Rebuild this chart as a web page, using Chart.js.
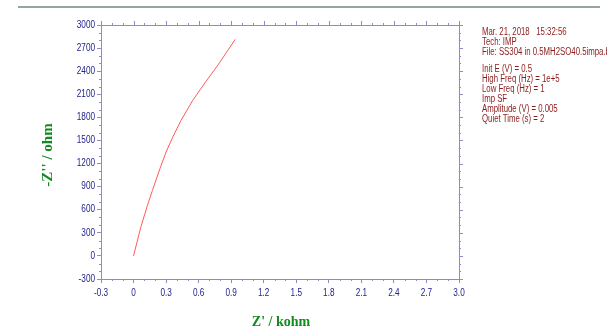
<!DOCTYPE html>
<html>
<head>
    <title>Nyquist plot</title>
    <script src="https://cdn.jsdelivr.net/npm/chart.js"></script>
    <style>
        body { margin: 0; background-color: #ffffff; }
        #wrap { position: relative; width: 607px; height: 331px; }
    </style>
</head>
<body>
<div id="wrap"><canvas id="nyquist" width="607" height="331"></canvas></div>
<script>
    // Z' in kohm, -Z'' in ohm
    var zReal = [0, 0.066, 0.127, 0.174, 0.245, 0.30, 0.361, 0.438, 0.546, 0.669, 0.783, 0.937];
    var zImag = [0, 369, 652, 850, 1140, 1350, 1543, 1761, 2022, 2270, 2490, 2813];
    var xTicks = [-0.3, 0, 0.3, 0.6, 0.9, 1.2, 1.5, 1.8, 2.1, 2.4, 2.7, 3.0];
    var yTicks = [-300, 0, 300, 600, 900, 1200, 1500, 1800, 2100, 2400, 2700, 3000];
    var infoLines = [
        ['Mar. 21, 2018   15:32:56', 32],
        ['Tech: IMP', 42],
        ['File: SS304 in 0.5MH2SO40.5impa.bin', 52],
        ['Init E (V) = 0.5', 69],
        ['High Freq (Hz) = 1e+5', 79],
        ['Low Freq (Hz) = 1', 89],
        ['Imp SF', 99],
        ['Amplitude (V) = 0.005', 109],
        ['Quiet Time (s) = 2', 119]
    ];

    var axisColor = '#8c8cc8';
    var labelColor = '#23238a';
    var sans = "'Liberation Sans', Arial, sans-serif";

    var points = zReal.map(function (x, i) { return { x: x, y: zImag[i] }; });

    // narrow text like the original Gamry export
    function narrowText(ctx, txt, x, y, align, sx) {
        ctx.save();
        ctx.translate(x, y);
        ctx.scale(sx, 1);
        ctx.textAlign = align;
        ctx.fillText(txt, 0, 0);
        ctx.restore();
    }

    var decor = {
        id: 'decor',
        afterDraw: function (chart) {
            var ctx = chart.ctx;
            var a = chart.chartArea;
            var sx = chart.scales.x, sy = chart.scales.y;
            ctx.save();
            ctx.strokeStyle = '#94a3a3';
            ctx.lineWidth = 2;
            ctx.beginPath(); ctx.moveTo(18, 7); ctx.lineTo(600, 7); ctx.stroke();

            // top/right frame and minor ticks
            ctx.strokeStyle = axisColor;
            ctx.lineWidth = 1;
            ctx.beginPath();
            ctx.moveTo(a.left, a.top + 0.5); ctx.lineTo(a.right, a.top + 0.5);
            ctx.moveTo(a.right + 0.5, a.top); ctx.lineTo(a.right + 0.5, a.bottom);
            var v, p, len;
            for (var i = -3; i <= 30; i++) {
                v = i / 10;
                p = Math.round(sx.getPixelForValue(v)) + 0.5;
                len = (i % 3 === 0) ? 4 : 2;
                ctx.moveTo(p, a.top); ctx.lineTo(p, a.top - len);
                if (i % 3 !== 0) { ctx.moveTo(p, a.bottom); ctx.lineTo(p, a.bottom + len); }
            }
            for (var j = -3; j <= 30; j++) {
                v = j * 100;
                p = Math.round(sy.getPixelForValue(v)) + 0.5;
                len = (j % 3 === 0) ? 4 : 2;
                ctx.moveTo(a.right, p); ctx.lineTo(a.right + len, p);
                if (j % 3 !== 0) { ctx.moveTo(a.left, p); ctx.lineTo(a.left - len, p); }
            }
            ctx.stroke();

            // tick labels
            ctx.fillStyle = labelColor;
            ctx.font = '10px ' + sans;
            ctx.textBaseline = 'middle';
            xTicks.forEach(function (t) {
                narrowText(ctx, t === 0 ? '0' : t.toFixed(1), sx.getPixelForValue(t), 293, 'center', 0.82);
            });
            yTicks.forEach(function (t) {
                narrowText(ctx, String(t), 95, sy.getPixelForValue(t), 'right', 0.82);
            });

            // axis titles
            ctx.fillStyle = '#118a1e';
            ctx.font = "bold 14px 'Liberation Serif', serif";
            ctx.textAlign = 'center';
            ctx.fillText("Z' / kohm", 281, 322);
            ctx.font = "bold 15px 'Liberation Serif', serif";
            ctx.translate(48, 155);
            ctx.rotate(-Math.PI / 2);
            ctx.fillText("-Z'' / ohm", 0, 0);
            ctx.setTransform(1, 0, 0, 1, 0, 0);

            // run parameters
            ctx.fillStyle = '#8b1a1a';
            ctx.font = '10px ' + sans;
            infoLines.forEach(function (l) { narrowText(ctx, l[0], 482, l[1], 'left', 0.78); });
            ctx.restore();
        }
    };

    new Chart(document.getElementById('nyquist'), {
        type: 'scatter',
        data: {
            datasets: [{
                data: points,
                showLine: true,
                borderColor: '#ff5a5a',
                borderWidth: 1,
                pointRadius: 0,
                tension: 0
            }]
        },
        options: {
            responsive: false,
            animation: false,
            layout: { padding: { top: 25, right: 148, left: 0, bottom: 0 } },
            plugins: { legend: { display: false }, tooltip: { enabled: false } },
            scales: {
                x: {
                    min: -0.3, max: 3.0,
                    afterBuildTicks: function (s) { s.ticks = xTicks.map(function (v) { return { value: v }; }); },
                    afterFit: function (s) { s.height = 52; },
                    ticks: { display: false },
                    grid: { drawOnChartArea: false, tickLength: 4, color: axisColor },
                    border: { color: axisColor }
                },
                y: {
                    min: -300, max: 3000,
                    afterBuildTicks: function (s) { s.ticks = yTicks.map(function (v) { return { value: v }; }); },
                    afterFit: function (s) { s.width = 101; },
                    ticks: { display: false },
                    grid: { drawOnChartArea: false, tickLength: 4, color: axisColor },
                    border: { color: axisColor }
                }
            }
        },
        plugins: [decor]
    });
</script>
</body>
</html>
